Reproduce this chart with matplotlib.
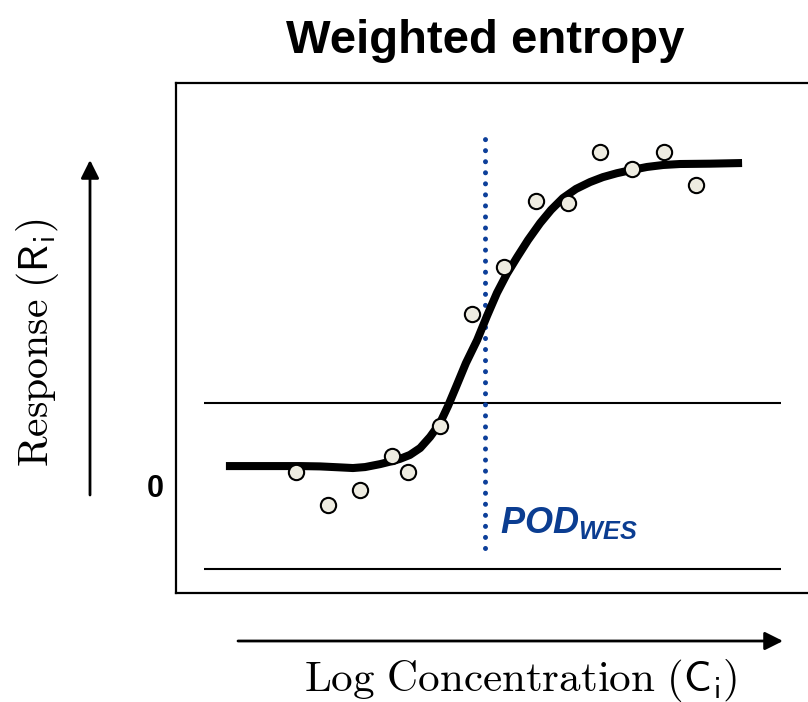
import matplotlib
matplotlib.use("Agg")
import matplotlib.pyplot as plt

plt.rcParams['mathtext.fontset'] = 'custom'
plt.rcParams['mathtext.it'] = 'Liberation Sans:italic:bold'
plt.rcParams['mathtext.rm'] = 'Liberation Sans:italic:bold'

# observed responses
conc = [0, 1, 2, 3, 3.5, 4.5, 5.5, 6.5, 7.5, 8.5, 9.5, 10.5, 11.5, 12.5]
resp = [5.5, -4.6, 0.0, 10.4, 5.5, 19.5, 53.7, 68.0, 88.1, 87.5, 103.0, 97.9, 103.0, 93.0]

# fitted curve
fit_x = [-2.19, 0.13, 0.75, 1.38, 1.78, 2.16, 2.63, 3.0, 3.25, 3.56, 3.88, 4.19, 4.5,
         4.75, 5.0, 5.31, 5.66, 5.97, 6.28, 6.59, 6.91, 7.25, 7.63, 7.97, 8.34, 8.75,
         9.19, 9.59, 10.03, 10.5, 10.97, 11.47, 12.0, 12.94, 13.94]
fit_y = [7.3, 7.3, 7.2, 6.9, 6.7, 7.0, 7.9, 8.8, 9.5, 10.7, 12.8, 16.2, 20.4,
         25.6, 31.4, 38.7, 45.7, 53.1, 60.1, 65.9, 71.0, 76.2, 81.4, 85.4, 89.0, 91.8,
         93.9, 95.4, 96.6, 97.6, 98.5, 99.1, 99.4, 99.5, 99.7]

upper_band = 26.5
lower_band = -24.1
pod_wes = 5.9

fig = plt.figure(figsize=(8.08, 7.02), dpi=100)
ax = fig.add_axes([176 / 808, 109 / 702, 1 - 176 / 808, 510 / 702])
ax.set_xlim(-3.75, 16)
ax.set_ylim(-31.4, 124.1)
ax.set_xticks([])
ax.set_yticks([])
for s in ['left', 'top', 'bottom']:
    ax.spines[s].set_linewidth(1.6)
ax.spines['right'].set_visible(False)

# horizontal band lines
ax.hlines([upper_band, lower_band], -2.875, 15.16, colors='black', lw=1.5)

# POD line
ax.plot([pod_wes, pod_wes], [-17.7, 109.1], color='#0D3F9A', lw=3.6,
        ls=(0, (0.01, 2.2)), dash_capstyle='round', zorder=2)

# fit and data
ax.plot(fit_x, fit_y, color='black', lw=5.8, solid_joinstyle='round',
        solid_capstyle='butt', zorder=3)
ax.plot(conc, resp, 'o', ms=11, mfc='#EEECE1', mec='black', mew=1.5, zorder=4)

ax.text(6.375, -13.1, r'$POD_{WES}$', color='#0B3D91', fontsize=26,
        va='baseline', ha='left', math_fontfamily='custom')

# outer labels
fig.text(485 / 808, 1 - 53 / 702, 'Weighted entropy', family='Liberation Sans',
         weight='bold', fontsize=34, ha='center', va='baseline')
fig.text(155 / 808, 1 - 489 / 702, '0', family='Liberation Sans', weight='bold',
         fontsize=22, ha='center', va='center')
fig.text(38 / 808, 1 - 343 / 702, r'$\mathrm{Response\ (}\mathsf{R}_{\mathsf{i}}\mathrm{)}$',
         fontsize=30, rotation=90, ha='center', va='center', math_fontfamily='cm')
fig.text(521 / 808, 1 - 680 / 702,
         r'$\mathrm{Log\ Concentration\ (}\mathsf{C}_{\mathsf{i}}\mathrm{)}$',
         fontsize=31, ha='center', va='center', math_fontfamily='cm')

arrow = dict(arrowstyle='-|>,head_length=1.0,head_width=0.5', lw=2, color='black',
             mutation_scale=11, shrinkA=0, shrinkB=0)
ax.annotate('', xy=(90, 542), xytext=(90, 207), xycoords='figure pixels',
            textcoords='figure pixels', arrowprops=arrow, annotation_clip=False)
ax.annotate('', xy=(783, 61), xytext=(238, 61), xycoords='figure pixels',
            textcoords='figure pixels', arrowprops=arrow, annotation_clip=False)

fig.savefig('out.png', dpi=100)
